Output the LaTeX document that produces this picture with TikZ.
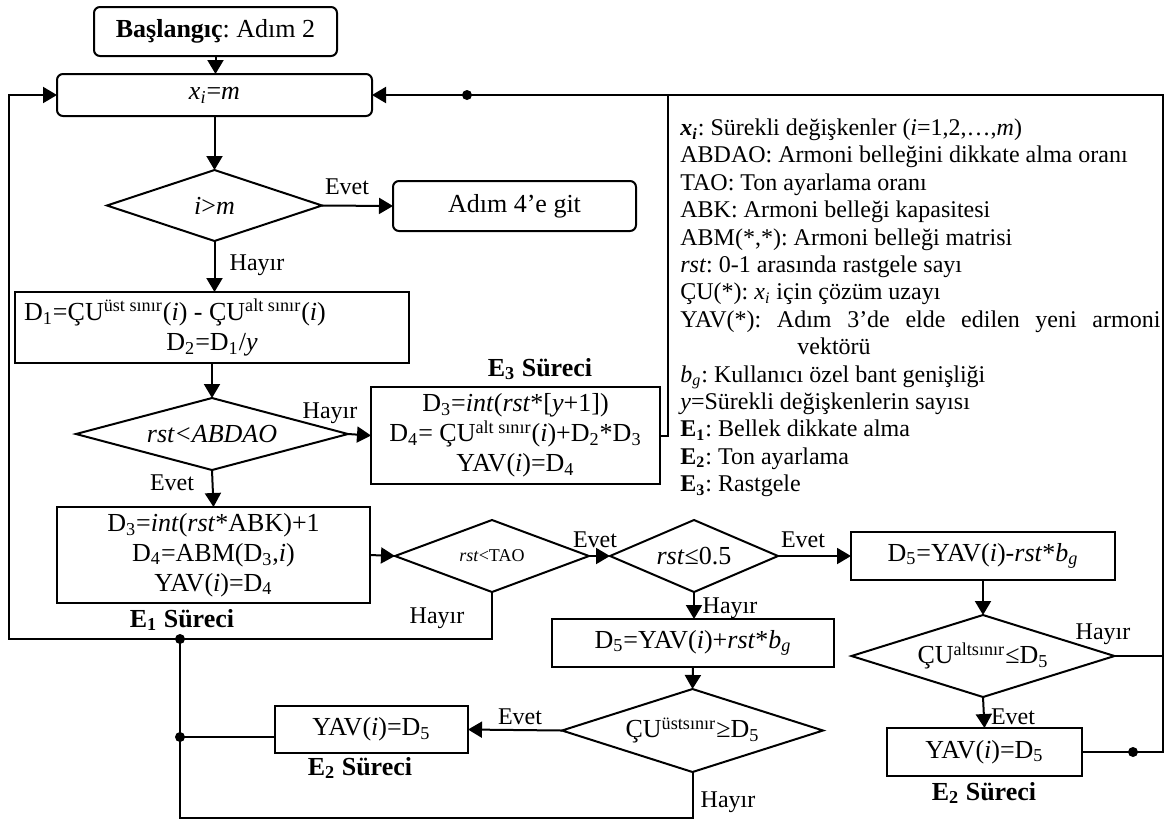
\documentclass[tikz,border=0pt]{standalone}
\usepackage{fontspec}
\setmainfont{Liberation Serif}
\usetikzlibrary{arrows.meta, positioning, shapes.geometric}
\frenchspacing

\tikzset{
	box/.style={draw, rectangle, line width=1pt, inner sep=0pt, outer sep=0pt, align=center, font=\fontsize{13}{15}\selectfont},
	rbox/.style={box, rounded corners=3pt},
	karar/.style={draw, diamond, line width=1pt, inner sep=0pt, outer sep=0pt, font=\fontsize{13}{15}\selectfont},
	etiket/.style={inner sep=0pt, font=\fontsize{12}{14}\selectfont},
	surec/.style={inner sep=0pt, font=\fontsize{13}{15}\selectfont\bfseries},
	ok/.style={line width=1pt, -{Triangle[length=7pt, width=8pt]}},
	hat/.style={line width=1pt},
}

\begin{document}
\begin{tikzpicture}[x=0.5pt, y=-0.5pt]

\newcommand{\pw}[1]{#1*0.5pt}

\useasboundingbox (0,0) rectangle (1167,821);

% ana akis
\node[rbox, minimum width=\pw{243}, minimum height=\pw{49}] (basla) at (215.5,31.5) {\textbf{Başlangıç}: Adım 2};
\node[rbox, minimum width=\pw{315}, minimum height=\pw{42}] (xim) at (214.5,95) {\textit{x}\textsubscript{\textit{i}}=\textit{m}};
\node[karar, shape aspect=3.03, minimum width=\pw{215}, minimum height=\pw{71}] (k1) at (214.5,205.5) {\textit{i}>\textit{m}};
\node[rbox, minimum width=\pw{243}, minimum height=\pw{50}] (adim4) at (514.5,206) {Adım 4’e git};
\node[box, minimum width=\pw{394}, minimum height=\pw{71}] (d1) at (212,327.5) {D\textsubscript{1}=ÇU\textsuperscript{üst sınır}(\textit{i}) - ÇU\textsuperscript{alt sınır}(\textit{i})\hspace*{37pt}\\ D\textsubscript{2}=D\textsubscript{1}/\textit{y}};
\node[karar, shape aspect=3.78, minimum width=\pw{272}, minimum height=\pw{72}] (k2) at (212,434) {\textit{rst<ABDAO}};
\node[box, minimum width=\pw{289}, minimum height=\pw{97}] (e3) at (515.5,435.5) {D\textsubscript{3}=\textit{int}(\textit{rst}*[\textit{y}+1])\\ D\textsubscript{4}= ÇU\textsuperscript{alt sınır}(\textit{i})+D\textsubscript{2}*D\textsubscript{3}\\ YAV(\textit{i})=D\textsubscript{4}};
\node[box, minimum width=\pw{313}, minimum height=\pw{96}] (e1) at (213.5,555) {D\textsubscript{3}=\textit{int}(\textit{rst}*ABK)+1\\ D\textsubscript{4}=ABM(D\textsubscript{3},\textit{i})\\ YAV(\textit{i})=D\textsubscript{4}};
\node[karar, shape aspect=2.69, minimum width=\pw{194}, minimum height=\pw{72}, font=\fontsize{9}{10}\selectfont] (k3) at (492,556) {\textit{rst}<TAO};
\node[karar, shape aspect=2.33, minimum width=\pw{168}, minimum height=\pw{72}] (k4) at (694,556) {\textit{rst}≤0.5};
\node[box, minimum width=\pw{264}, minimum height=\pw{48}] (d5eksi) at (983,556) {D\textsubscript{5}=YAV(\textit{i})-\textit{rst}*\textit{b}\textsubscript{\textit{g}}};
\node[box, minimum width=\pw{282}, minimum height=\pw{48}] (d5arti) at (693,643) {D\textsubscript{5}=YAV(\textit{i})+\textit{rst}*\textit{b}\textsubscript{\textit{g}}};
\node[karar, shape aspect=3.21, minimum width=\pw{263}, minimum height=\pw{82}] (k5) at (983,656) {ÇU\textsuperscript{altsınır}≤D\textsubscript{5}};
\node[karar, shape aspect=3.14, minimum width=\pw{261}, minimum height=\pw{83}] (k6) at (692.5,730.5) {ÇU\textsuperscript{üstsınır}≥D\textsubscript{5}};
\node[box, minimum width=\pw{193}, minimum height=\pw{47}] (yavsol) at (371.5,729.5) {YAV(\textit{i})=D\textsubscript{5}};
\node[box, minimum width=\pw{195}, minimum height=\pw{48}] (yavsag) at (984.5,752) {YAV(\textit{i})=D\textsubscript{5}};

% surec adlari
\node[surec] (s3) at (540,369) {E\textsubscript{3} Süreci};
\node[surec] (s1) at (182,620) {E\textsubscript{1} Süreci};
\node[surec] (s2sol) at (360,768) {E\textsubscript{2} Süreci};
\node[surec] (s2sag) at (984,793) {E\textsubscript{2} Süreci};

% evet / hayir
\node[etiket] (e-k1) at (347,187) {Evet};
\node[etiket] (h-k1) at (257,265) {Hayır};
\node[etiket] (h-k2) at (330,413) {Hayır};
\node[etiket] (e-k2) at (172,483) {Evet};
\node[etiket] (h-k3) at (437,618) {Hayır};
\node[etiket] (e-k3) at (595,540) {Evet};
\node[etiket] (e-k4) at (803,540) {Evet};
\node[etiket] (h-k4) at (730,608) {Hayır};
\node[etiket] (e-k6) at (520,717) {Evet};
\node[etiket] (h-k6) at (728,802) {Hayır};
\node[etiket] (h-k5) at (1103,634) {Hayır};
\node[etiket] (e-k5) at (1013,717) {Evet};

% aciklamalar
\node[anchor=north west, text width=240pt, align=justify, inner sep=0pt, font=\fontsize{12}{13.7}\selectfont] (aciklama) at (680,116) {\parindent=0pt
\strut\textbf{\textit{x}\textsubscript{\textit{i}}}: Sürekli değişkenler (\textit{i}=1,2,…,\textit{m})\par
ABDAO: Armoni belleğini dikkate alma oranı\par
TAO: Ton ayarlama oranı\par
ABK: Armoni belleği kapasitesi\par
ABM(*,*): Armoni belleği matrisi\par
\textit{rst}: 0-1 arasında rastgele sayı\par
ÇU(*): \textit{x}\textsubscript{\textit{i}} için çözüm uzayı\par
\hangindent=58.5pt\hangafter=1 YAV(*): Adım 3’de elde edilen yeni armoni\linebreak vektörü\par
\textit{b}\textsubscript{\textit{g}}: Kullanıcı özel bant genişliği\par
\textit{y}=Sürekli değişkenlerin sayısı\par
\textbf{E\textsubscript{1}}: Bellek dikkate alma\par
\textbf{E\textsubscript{2}}: Ton ayarlama\par
\textbf{E\textsubscript{3}}: Rastgele};

% koseler
\coordinate (solust) at (9,95);
\coordinate (solalt) at (9,639);
\coordinate (j1) at (180,639);
\coordinate (j2) at (180,737);
\coordinate (altsol) at (180,818);
\coordinate (j3) at (467,95);
\coordinate (e3ust) at (668,95);
\coordinate (sagust) at (1163,95);
\coordinate (sagalt) at (1163,752);
\coordinate (j4) at (1133,752);

% baglantilar
\draw[ok] (basla.south) -- (basla.south |- xim.north);
\draw[ok] (xim.south) -- (k1.north);
\draw[ok] (k1.east) -- (adim4.west);
\draw[ok] (k1.south) -- (k1.south |- d1.north);
\draw[ok] (d1.south) -- (k2.north);
\draw[ok] (k2.east) -- (e3.west);
\draw[ok] (k2.south) -- (e1.north);
\draw[ok] (e1.east) -- (k3.west);
\draw[ok] (k3.east) -- (k4.west);
\draw[ok] (k4.east) -- (d5eksi.west);
\draw[ok] (k4.south) -- (k4.south |- d5arti.north);
\draw[ok] (d5arti.south) -- (k6.north);
\draw[ok] (k6.west) -- (yavsol.east);
\draw[ok] (d5eksi.south) -- (k5.north);
\draw[ok] (k5.south) -- (yavsag.north);
\draw[hat] (k5.east) -- (k5.east -| sagust);
\draw[ok] (yavsag.east) -- (sagalt) -- (sagust) -- (xim.east);
\draw[hat] (e3.east) -| (e3ust);
\draw[ok] (k3.south) |- (solalt) -- (solust) -- (xim.west);
\draw[hat] (k6.south) |- (altsol) -- (j1);
\draw[hat] (j2) -- (j2 -| yavsol.west);

\foreach \j in {j1, j2, j3, j4}
	\fill (\j) circle (2.5pt);

\end{tikzpicture}
\end{document}
